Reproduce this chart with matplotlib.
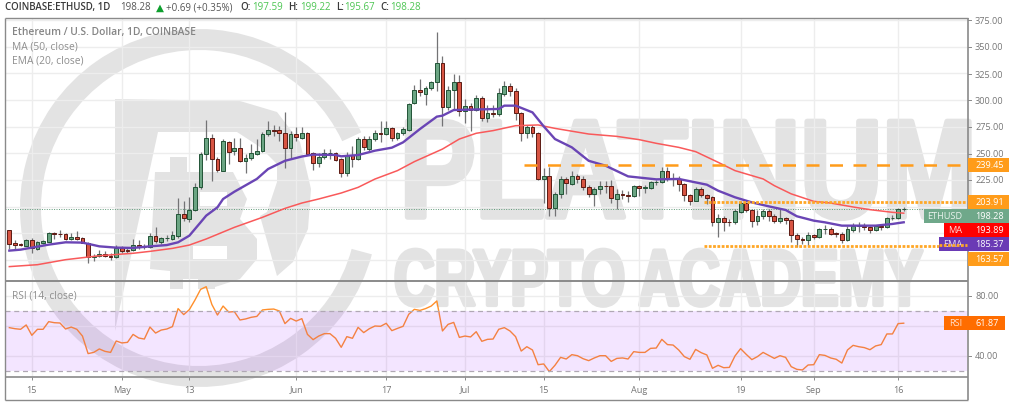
import numpy as np
import matplotlib
matplotlib.use("Agg")
import matplotlib.pyplot as plt
import matplotlib.patheffects as pe
from matplotlib.transforms import Affine2D
from matplotlib.patches import Wedge, Polygon, Rectangle

plt.rcParams['font.family'] = ['Open Sans', 'DejaVu Sans']

# ---------- data ----------
opens = [178,166,165,163.5,169,160,166,167,175,174.5,
         174,170,172,171,166,152.5,153.5,156,154,153,
         161,159,159.5,164.5,162.5,162,172.5,167,170.5,170,
         172.5,193,188.5,196.5,218,249,264.5,245,233.5,260.5,
         252,255,243,246,249.5,252,268,272,271.5,269,
         255,268,264.5,269.5,250,241,247,250,250,244.5,
         231.5,248.5,245,263,254,263.5,269,268,274,264,
         269,272,297,309,306,311,316.5,334.7,293,309.5,
         316.5,290,294,291,302,283,288,287,306,313.5,
         308,288,269,275,269,226,229,199,212,226,
         221,229,226,218,212,217,219.5,219.5,207.5,211.5,
         211,210,219.5,217.5,217.5,223,223,233.5,226,226,
         221,211,205.5,216.5,211,209.5,186,189.5,186,186,
         195,203.5,197,187,191,196,191.5,186.5,189,187.5,
         173.5,169.5,168.5,173,171.5,179,179.5,175,174,169,
         178.5,182,182,181,178.5,181.5,181,189,189.5,197.59]
highs = [178,168.5,166,170,170.5,168,169,176.5,176.5,178.5,
         175.5,175,177.5,172,167,156,159.5,158,156.5,164,
         163.5,161,169.5,169,165,175.5,181,172,173,177.5,
         208,205.5,209.5,222,251.5,281.5,268,247,263,262,
         264,264,249.5,258.5,263,270,280,277,276,289,
         271,275,274.5,270,251.5,250,254,254.5,251,246,
         251,257,265,266,266,272,280,280,275,270,
         275,297.5,314,320,313,318,364,341,313,324,
         323,301,297,305,304,295,295,311,317.5,316,
         311,289,277,277,270,236.5,237,214,229,228,
         233,231,229,220,218.5,224,224.5,225,217,216,
         215,220,220,220,224,225,237,237,232,229,
         222,212,218,218,212,210,193,191,188,198,
         205,204.5,198,197,198,198,193,199,190,188.5,
         175,172,176.5,174,180,183,181,176,176.5,182,
         185,186,185,182,183,183,190,192,199,199.22]
lows = [160,160,163,163,157,159,165,166.5,170,171.5,
        169,169,169,165.5,147,149.5,152.5,152.5,150,151.5,
        156.5,156.5,158,160,160,161,166,165,168,169,
        171,187,186,195.5,216.5,243.5,224,232.5,233,240,
        248,241.5,231.5,244,248,251,266.5,266.5,262,236,
        245,262,263.5,248,234,237,245,245,243,227.5,
        229,237,244,253,252.5,261.5,261,267,262,262.5,
        267,271,296,304,295,309.5,308,276,291,291,
        285,278,271,289.5,280,279.5,284,285,304,304,
        281.5,262,264,265,225,203.5,191.5,191.5,208,212,
        220,222,216,209,200.5,212,213,203,198,207,
        204,209,210,213,216.5,220,222,224,219,215,
        205,202,205,209,202.5,182,171.5,177,182,184,
        194,195,181,183,188,187,184.5,185,184,167,
        162.5,165,163,169.5,170.5,174,173,172,166,168,
        176.5,176,178,175,177,178,180,187.5,188,195.67]
closes = [165,164.5,164,169,161,167,167.5,175.5,174,174,
          170,172,170,166,152.5,154,156,153.5,153,161,
          158.5,158,164.5,162,162,172.5,167.5,170.5,171,173,
          193,189,196.5,218,249,264.5,245,234,261.5,251.5,
          255,243,246,250,252,268.5,272,271,269,255,
          268,265,269,249,241,247,250,250.5,244,231.5,
          248.5,245,263,255.5,263.5,269,268,274,264,269,
          273,296.5,309,307.5,311,316.5,334.7,293,309.5,316.5,
          290,294,291,302,283,288,287,306.5,313.5,308,
          288,269,275,269,226,229,199,212,226,222,
          229,225.5,218,212,217,219.5,219,208,211.5,211,
          210,219.5,217.5,218,223,223.5,233.5,226,226.5,221,
          210.5,205.5,216.5,211,208.5,186,189.5,186,185.5,195.5,
          203.5,197,187,191,196,191,186.5,189,187.5,173,
          169.5,169,173,171.5,179,179.5,174.5,174,169,179,
          182,182.5,181,178.5,181.5,181,189,189.5,198,198.28]

ema_days = [0,2,4,7,10,13,15,16,19,22,25,28,30,32,34,35,37,38,40,44,46,49,52,54,58,59,
            62,65,68,70,73,76,77,79,82,87,88,90,93,95,97,100,103,106,110,115,119,
            124,126,129,132,135,138,140,143,145,148,154,157,159]
ema_vals = [158.8,159.7,161.6,164.4,166.6,166.3,164,162.8,161.6,161.3,162.8,164,166.6,172.8,185.3,191.6,199.4,207.2,214,226,235.3,243,247,248.8,248.5,247.2,
            248.4,252.5,255.3,260.3,272.8,284.4,285.3,290.6,291,291.6,294.7,294.7,288.4,275.3,263.4,255.6,243,238.4,228.4,225.6,226,
            220.6,215,208.8,204,200.3,196.9,191,186.9,185.3,182.2,182.2,183.8,185.37]
ma_days = [0,5,10,16,22,25,29,32,35,40,45,49,52,55,59,
           62,65,69,72,77,80,83,86,90,94,97,103,108,112,115,119,
           122,126,129,134,136,139,143,146,150,153,157,159]
ma_vals = [143.8,145.6,150.3,154,156.3,158.1,160.9,164,169.7,180.6,190,198.4,203.4,207.2,212.8,
           218.1,225.9,233.8,242.2,254,263.4,268.8,271.3,275.9,276.6,273.4,268.1,265.9,262.8,259.4,255.6,
           251.6,241.6,233.8,226,219.7,212,205,203.4,199.7,197.2,194.7,193.89]
rsi_vals = [58.9,58.2,57.8,60.7,53.8,57.8,57.8,62.9,62.2,62,
            58,59.3,57.8,53.3,41.6,42.4,44.7,43.1,42.4,50,
            48.7,49.1,54.4,52,51.3,59.3,55.3,57.3,58,59.6,
            71.6,67.6,70.9,77.3,84.4,86.2,74.4,67.3,73.3,69.3,
            69.6,64,64.7,65.8,66.4,70.7,71.1,71.3,70,61.6,
            65.1,63.3,64.9,54.4,50.9,53.3,54.9,54.9,51.8,45.8,
            52.9,51.8,59.1,55.6,58.2,60,59.8,61.8,56.9,58.4,
            59.8,67.8,71.1,70.4,71.6,73.3,76.7,56.7,61.1,62.4,
            52.4,53.3,52.7,56.2,49.8,51.1,51.3,57.8,58.9,56.7,
            52.9,43.3,46.2,44,34.2,34.7,29.6,33.8,39.1,38,
            40.9,40.2,38.2,36.9,38.7,40.2,40.2,36.4,38.4,38.7,
            38,42.9,42.4,42.4,45.1,45.3,51.1,47.6,47.3,44,
            39.6,37.8,44.4,42.2,40.7,31.8,33.8,32.2,32.4,40,
            44.9,41.1,37.6,39.6,42.4,40.4,38.4,40.2,39.1,32.9,
            31.1,30.7,34,34.2,40.9,40.4,38.7,37.8,35.3,44,
            47.1,46.2,45.6,44.2,46.7,47.6,54.7,54.7,61.6,61.87]

time_ticks = [4,20,32,51,67,81,95,112,130,143,158]
time_labels = ["15","May","13","Jun","17","Jul","15","Aug","19","Sep","16"]
price_ticks = [225,250,275,300,325,350,375]
rsi_ticks = [40,80]
levels = [239.45,203.91,163.57]
level_starts = [91.5,123.5,123.5]

W, H = 1024, 406
WM = '#E3E3E3'
GRID = '#EDEDED'
FRAME = '#8A8A8A'
TXT = '#777777'

fig = plt.figure(figsize=(W/100, H/100), dpi=100, facecolor='white')

def axpx(x0, y0, x1, y1, z):
    a = fig.add_axes([x0/W, 1-y1/H, (x1-x0)/W, (y1-y0)/H], zorder=z)
    a.patch.set_visible(False)
    return a

class Squeeze(pe.AbstractPathEffect):
    """Narrow and embolden a text: anchor pixel x0 goes to x1, widths times sx."""
    def __init__(self, x0, x1, sx, lw):
        super().__init__()
        self.x0, self.x1, self.sx, self.lw = x0, x1, sx, lw
    def draw_path(self, renderer, gc, tpath, affine, rgbFace=None):
        t = affine + Affine2D().translate(-self.x0, 0).scale(self.sx, 1).translate(self.x1, 0)
        g = renderer.new_gc()
        g.copy_properties(gc)
        g.set_linewidth(self.lw)
        g.set_foreground(WM)
        renderer.draw_path(g, tpath, t, rgbFace)
        g.restore()

# ---------- watermark (pixel canvas underneath everything) ----------
bg = axpx(0, 0, W, H, 0)
bg.set_xlim(0, W); bg.set_ylim(H, 0); bg.axis('off')
bg.add_patch(Wedge((199, 209), 179, 15, 335, width=21, fc=WM, ec='none'))
bg.add_patch(Polygon([(115,100),(240,102),(277,113),(300,143),(311,190),(308,230),(293,263),
                      (277,277),(260,217),(267,213),(277,183),(277,165),(260,148),(237,133),
                      (158,133),(118,317),(115,332)], fc=WM, ec='none'))
bg.add_patch(Polygon([(155,173),(170,173),(170,158),(187,158),(187,173),(200,173),(233,173),
                      (247,200),(240,220),(257,240),(257,260),(240,280),(215,288),(215,290),
                      (198,290),(198,280),(183,280),(183,290),(170,290),(170,272),(150,270)],
                     fc=WM, ec='none'))
bg.add_patch(Rectangle((200,193), 27, 14, fc='white', ec='none'))
bg.add_patch(Rectangle((193,247), 34, 13, fc='white', ec='none'))
bg.text(280, 218, "PLATINUM", color=WM, fontsize=100, fontweight='bold', ha='left', va='baseline',
        family='Liberation Sans', zorder=1, path_effects=[Squeeze(280, 400, 0.815, 4)])
bg.text(190, 306, "CRYPTO ACADEMY", color=WM, fontsize=57, fontweight='bold', ha='left', va='baseline',
        family='Liberation Sans', zorder=1, path_effects=[Squeeze(190, 394, 0.71, 3)])

# ---------- price pane ----------
xlim = (-0.77, 170.25)
ax = axpx(5, 18.5, 967, 281, 2)
days = np.arange(len(closes))
ax.set_xlim(*xlim); ax.set_ylim(131.25, 377.34)
ax.set_yticks(price_ticks); ax.set_xticks(time_ticks)
ax.tick_params(left=False, bottom=False, labelleft=False, labelbottom=False, right=False)
ax.grid(True, color=GRID, lw=1); ax.set_axisbelow(True)
# extra gridlines at the levels with no printed label
for v in (150, 175, 200):
    ax.axhline(v, color=GRID, lw=1, zorder=0.5)
for s in ax.spines.values():
    s.set_visible(False)

o, h, l, c = map(np.array, (opens, highs, lows, closes))
up = c >= o
ax.vlines(days, l, h, color='#737375', lw=0.9, zorder=3)
ax.bar(days[up], (c-o)[up], bottom=o[up], width=0.68, fc='#6BA583', ec='#225437', lw=0.7, zorder=4)
ax.bar(days[~up], (o-c)[~up], bottom=c[~up], width=0.68, fc='#D75442', ec='#5B1A13', lw=0.7, zorder=4)
ax.plot(ma_days, ma_vals, color='#F9595A', lw=1.1, zorder=5)
ax.plot(ema_days, ema_vals, color='#6A45B5', lw=1.7, zorder=6)
ax.axhline(closes[-1], color='#5E9A78', lw=0.7, ls=(0, (1, 1.5)), zorder=2)
ax.hlines(levels[0], level_starts[0], xlim[1], color='#FF9C1A', lw=1.8, ls=(0, (5.2, 4.2)), zorder=7)
ax.hlines(levels[1:], level_starts[1:], xlim[1], color='#FFA726', lw=2, ls=(0, (1, 0.55)), zorder=7)

# ---------- RSI pane ----------
rx = axpx(5, 282, 967, 378, 2)
rx.set_xlim(*xlim); rx.set_ylim(26, 90)
rx.set_xticks(time_ticks); rx.set_yticks([40, 60, 80])
rx.tick_params(left=False, bottom=False, labelleft=False, labelbottom=False, right=False)
rx.grid(True, color=GRID, lw=1); rx.set_axisbelow(True)
for s in rx.spines.values():
    s.set_visible(False)
rx.plot(days, rsi_vals, color='#FF8F2B', lw=1.0, zorder=3)
rx.axhspan(30, 70, fc='#9915FF', alpha=0.11, lw=0, zorder=4)
for v in (30, 70):
    rx.axhline(v, color='#B0A8B4', lw=0.9, ls=(0, (4, 3)), zorder=5)

# ---------- time strip ----------
tx = axpx(5, 378, 967, 400, 2)
tx.set_xlim(*xlim); tx.set_ylim(0, 1)
tx.set_xticks(time_ticks); tx.set_xticklabels([])
tx.set_yticks([])
tx.tick_params(axis='x', direction='in', top=True, bottom=False, length=2.5, width=0.7, color=FRAME)
for s in tx.spines.values():
    s.set_visible(False)
for d, lab in zip(time_ticks, time_labels):
    tx.text(d, 0.45, lab, ha='center', va='center', fontsize=6.6, color=TXT)

# ---------- frame, header, labels (pixel canvas on top) ----------
ov = axpx(0, 0, W, H, 5)
ov.set_xlim(0, W); ov.set_ylim(H, 0); ov.axis('off')
for (x0, y0, x1, y1, lw) in [(5,18.5,967.5,18.5,1), (5,18.5,5,400.5,1), (5,400.5,967.5,400.5,1),
                             (967.5,18.5,967.5,400.5,1.2), (5,281.5,967.5,281.5,1.4), (5,378,967.5,378,1.2)]:
    ov.plot([x0, x1], [y0, y1], color=FRAME, lw=lw, solid_capstyle='butt')

HD = '#3A3A3A'; GREEN = '#4CC552'
def hdr(x, s, col, fw='normal'):
    ov.text(x, 7.5, s, color=col, fontsize=7, va='center', ha='left', fontweight=fw)
hdr(5, "COINBASE:ETHUSD, 1D", HD, 'semibold')
hdr(120, "198.28", '#555555')
ov.text(159.5, 7.5, "▲", color='#0E9F2E', fontsize=7.5, ha='center', va='center', family='DejaVu Sans')
hdr(166.5, "+0.69 (+0.35%)", '#555555')
hdr(240.5, "O:", HD, 'semibold'); hdr(252, "197.59", GREEN)
hdr(288.5, "H:", HD, 'semibold'); hdr(300, "199.22", GREEN)
hdr(336, "L:", HD, 'semibold'); hdr(344.5, "195.67", GREEN)
hdr(380, "C:", HD, 'semibold'); hdr(390, "198.28", GREEN)

LEG = '#8E8E8E'
ov.text(12, 33, "Ethereum / U.S. Dollar, 1D, COINBASE", color='#858585', fontsize=7.4, va='center', fontweight='semibold')
ov.text(12, 47, "MA (50, close)", color=LEG, fontsize=7.35, va='center')
ov.text(12, 61, "EMA (20, close)", color=LEG, fontsize=7.35, va='center')
ov.text(12, 296, "RSI (14, close)", color=LEG, fontsize=7.3, va='center')

for v, y in [(375,21),(350,48),(325,75),(300,101),(275,128),(250,155),(225,181)]:
    ov.text(975, y, f"{v}.00", color=TXT, fontsize=6.6, va='center')
    ov.plot([967.5, 971], [y, y], color=FRAME, lw=0.7)
for v, y in [(80,297),(40,357)]:
    ov.text(975, y, f"{v}.00", color=TXT, fontsize=6.6, va='center')
    ov.plot([967.5, 971], [y, y], color=FRAME, lw=0.7)

def box(x0, x1, y0, y1, col):
    ov.add_patch(Rectangle((x0, y0), x1-x0, y1-y0, fc=col, ec='none', zorder=4))
ORANGE = '#FF9C1A'
for (y0, y1, s) in [(158.5,172.5,"239.45"), (196,209.5,"203.91"), (252.5,266.5,"163.57")]:
    box(967.5, 1009, y0, y1, ORANGE)
    ov.text(975, (y0+y1)/2, s, color='white', fontsize=6.6, va='center', zorder=5)
box(924, 1009, 210, 224, '#6FA88A')
ov.text(945, 217, "ETHUSD", color='#E8F2EC', fontsize=6.6, va='center', ha='center', zorder=5)
ov.text(975, 217, "198.28", color='white', fontsize=6.6, va='center', zorder=5)
box(944, 1009, 224, 238, '#FF0000')
ov.text(955.5, 231, "MA", color='#FFD9D9', fontsize=6.6, va='center', ha='center', zorder=5)
ov.text(975, 231, "193.89", color='white', fontsize=6.6, va='center', zorder=5)
box(939, 1009, 238, 252, '#6A3AB5')
ov.text(953, 245, "EMA", color='#E8DFF5', fontsize=6.6, va='center', ha='center', zorder=5)
ov.text(975, 245, "185.37", color='white', fontsize=6.6, va='center', zorder=5)
ov.plot([939, 967], [246, 246], color='#FFA726', lw=2, ls=(0, (1, 0.55)), zorder=6)
box(944, 1005, 317, 331, '#FF6D00')
ov.text(955.5, 324, "RSI", color='#FFE0CC', fontsize=6.6, va='center', ha='center', zorder=5)
ov.text(975, 324, "61.87", color='white', fontsize=6.6, va='center', zorder=5)

fig.savefig("out.png", dpi=100)
